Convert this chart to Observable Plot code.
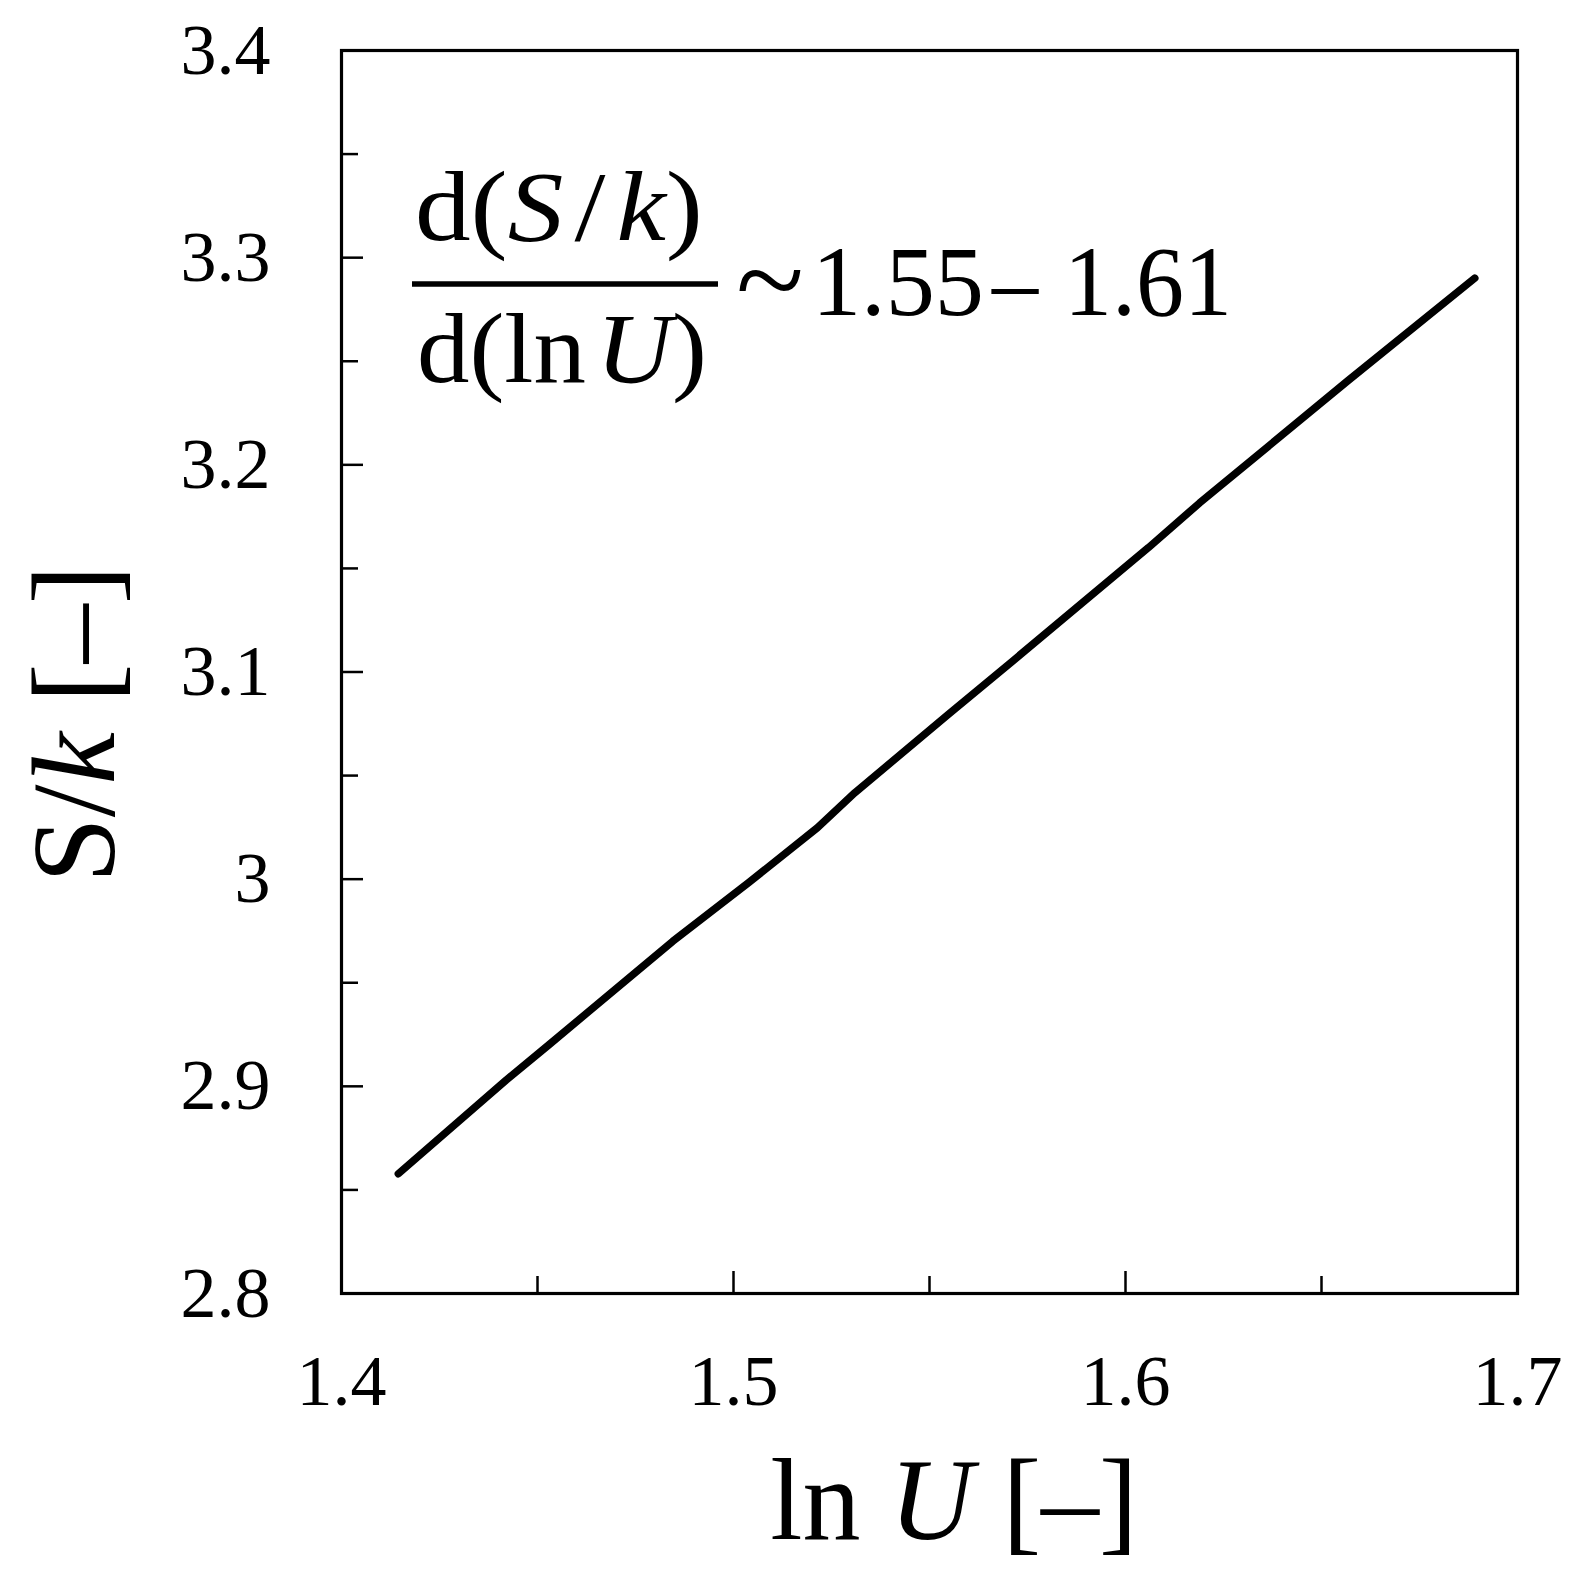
<!DOCTYPE html>
<html>
<head>
<meta charset="utf-8">
<script src="https://cdn.jsdelivr.net/npm/d3@7"></script>
<script src="https://cdn.jsdelivr.net/npm/@observablehq/plot@0.6"></script>
<style>
  body { margin: 0; background: white; }
  #chart svg { display: block; }
</style>
</head>
<body>
<div id="chart"></div>
<script>
// S/k against ln U
const lnU = [1.4145, 1.4420, 1.4530, 1.4845, 1.5039, 1.5214, 1.5310, 1.5548, 1.5716, 1.6059, 1.6189, 1.6568, 1.6891];
const Sk  = [2.8578, 2.9030, 2.9202, 2.9700, 2.9984, 3.0248, 3.0418, 3.0795, 3.1059, 3.1601, 3.1816, 3.2407, 3.2901];

const xMinor = [1.45, 1.55, 1.65];
const xMajor = [1.5, 1.6];
const xLabels = [1.4, 1.5, 1.6, 1.7];
const yMinor = [2.85, 2.95, 3.05, 3.15, 3.25, 3.35];
const yMajor = [2.9, 3.0, 3.1, 3.2, 3.3];
const yLabels = [2.8, 2.9, 3.0, 3.1, 3.2, 3.3, 3.4];

const W = 1587, H = 1591;
const mt = 50, mr = 70, mb = 298, ml = 341;
const fw = W - ml - mr, fh = H - mt - mb;
const serif = "'Liberation Serif', 'Times New Roman', serif";

const data = lnU.map((x, i) => ({x, y: Sk[i]}));

const chart = Plot.plot({
  width: W,
  height: H,
  marginTop: mt, marginRight: mr, marginBottom: mb, marginLeft: ml,
  style: {fontFamily: serif, color: 'black', background: 'white'},
  x: {domain: [1.4, 1.7]},
  y: {domain: [2.8, 3.4]},
  marks: [
    // inward ticks
    Plot.tickX(xMinor, {x: d => d, insetTop: fh - 17, strokeWidth: 2.5}),
    Plot.tickX(xMajor, {x: d => d, insetTop: fh - 22, strokeWidth: 2.5}),
    Plot.tickY(yMinor, {y: d => d, insetRight: fw - 17, strokeWidth: 2.5}),
    Plot.tickY(yMajor, {y: d => d, insetRight: fw - 22, strokeWidth: 2.5}),
    Plot.axisX(xLabels, {tickSize: 0, tickPadding: 60, fontSize: 72, label: null, tickFormat: d => String(d)}),
    Plot.axisY(yLabels, {tickSize: 0, tickPadding: 71, fontSize: 72, label: null, tickFormat: d => String(d)}),
    Plot.frame({strokeWidth: 3.2}),
    Plot.line(data, {x: 'x', y: 'y', stroke: 'black', strokeWidth: 7.5, strokeLinecap: 'round', strokeLinejoin: 'round'})
  ]
});
document.getElementById('chart').append(chart);

const svg = d3.select(chart);

// text with italic symbols
function richText(x, y, size, parts, anchor) {
  const t = svg.append('text')
    .attr('x', x).attr('y', y)
    .attr('font-family', serif)
    .attr('font-size', size)
    .attr('text-anchor', anchor || 'start')
    .attr('fill', 'black');
  parts.forEach(p => {
    const s = t.append('tspan').text(p.t);
    if (p.i) s.attr('font-style', 'italic');
    if (p.dx) s.attr('dx', p.dx);
  });
  return t;
}

richText(0, 0, 118, [
  {t: 'S/'}, {t: 'k', i: true}, {t: ' [–]'}
], 'middle').attr('transform', 'translate(114,724) rotate(-90)');

richText(954, 1539, 116, [
  {t: 'ln '}, {t: 'U', i: true}, {t: ' [–]'}
], 'middle');

// slope annotation, stretched to the widths in the figure
function fit(t, x0, width) {
  const w = t.node().getBBox().width;
  t.attr('transform', `translate(${x0},0) scale(${width / w},1) translate(${-x0},0)`);
}

fit(richText(415, 240, 100, [
  {t: 'd('}, {t: 'S', i: true}, {t: '/', dx: 10}, {t: 'k', i: true, dx: 10}, {t: ')'}
]), 415, 288);

fit(richText(417, 382, 100, [
  {t: 'd(ln'}, {t: 'U', i: true, dx: 10}, {t: ')'}
]), 417, 290);

svg.append('line')
  .attr('x1', 412).attr('x2', 718)
  .attr('y1', 284).attr('y2', 284)
  .attr('stroke', 'black').attr('stroke-width', 5.5);

fit(richText(736, 322, 124, [{t: '~'}]), 736, 68);
fit(richText(812, 315, 100, [{t: '1.55'}]), 812, 172);
fit(richText(992, 315, 100, [{t: '–'}]), 992, 48);
fit(richText(1064, 315, 100, [{t: '1.61'}]), 1064, 168);
</script>
</body>
</html>
